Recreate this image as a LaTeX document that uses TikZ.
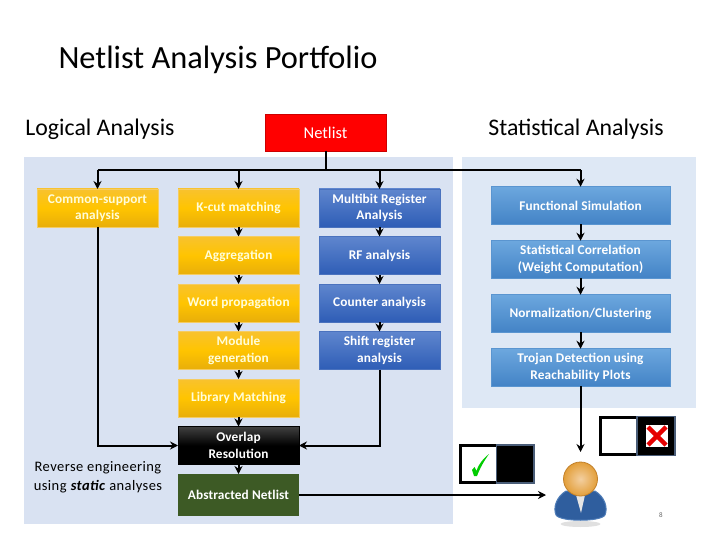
\documentclass[tikz,border=0pt]{standalone}
\usepackage{fontspec}
\setmainfont{Carlito}
\usepackage{xcolor}
\usetikzlibrary{positioning, arrows.meta, calc}
\definecolor{panelL}{HTML}{D9E2F2}
\definecolor{panelR}{HTML}{DEE8F5}
\definecolor{slateB}{HTML}{4A5D78}
\definecolor{goldT}{HTML}{F8C22E}
\definecolor{goldM}{HTML}{FFC400}
\definecolor{goldB}{HTML}{E8AE0A}
\definecolor{goldE}{HTML}{F5CC62}
\definecolor{blueT}{HTML}{5F86CE}
\definecolor{blueB}{HTML}{2E5DB6}
\definecolor{blueE}{HTML}{4A72BE}
\definecolor{skyT}{HTML}{6CA7DE}
\definecolor{skyB}{HTML}{4383C6}
\definecolor{skyE}{HTML}{5A95D0}
\definecolor{mossG}{HTML}{3D5A25}
\definecolor{headC}{HTML}{E39F3A}
\definecolor{headL}{HTML}{F3CFA0}
\definecolor{headE}{HTML}{C2802A}
\definecolor{suitC}{HTML}{2F5E9E}
\definecolor{suitE}{HTML}{4F7DB8}
\begin{document}
\begin{tikzpicture}[
      x=1pt, y=-1pt,
      every node/.style={align=center, inner sep=0pt, outer sep=0pt, font=\fontsize{13}{16.5}\selectfont},
      box/.style={minimum width=121pt, minimum height=38pt, text=white, font=\fontsize{13.3}{16.5}\selectfont\bfseries\addfontfeature{LetterSpace=1}},
      goldbox/.style={box, top color=goldT, bottom color=goldB, middle color=goldM, draw=goldE, line width=0.6pt, text=yellow!15!white},
      bluebox/.style={box, top color=blueT, bottom color=blueB, draw=blueE, line width=0.6pt},
      skybox/.style={box, minimum width=179pt, minimum height=37.5pt, top color=skyT, bottom color=skyB, draw=skyE, line width=0.6pt},
      flow/.style={-{Stealth[length=8pt, width=8pt]}, line width=2pt, black},
      bus/.style={line width=2pt, black},
      heading/.style={font=\fontsize{23.8}{28}\selectfont, text=black}
    ]
      \useasboundingbox (0,0) rectangle (720,540);
      \fill[white] (0,0) rectangle (720,540);
      \fill[panelL] (24,157) rectangle (453,524);
      \fill[panelR] (462,157) rectangle (696,408);

      \node[font=\fontsize{32.4}{38}\selectfont] (title) at (218,60) {Netlist Analysis Portfolio};
      \node[heading] (logical) at (100,129) {Logical Analysis};
      \node[heading] (statistical) at (576,129) {Statistical Analysis};

      \node[box, minimum height=37pt, fill=red, draw=red!80!black, line width=0.5pt, font=\fontsize{16.5}{20}\selectfont] (netlist) at (325.5,132.5) {Netlist};

      \node[goldbox] (common) at (97.5,208) {Common-support\\analysis};

      \node[goldbox] (kcut) at (238.5,208) {K-cut matching};
      \begin{scope}[node distance=9.5pt]
        \node[goldbox, below=of kcut] (aggr) {Aggregation};
        \node[goldbox, below=of aggr] (word) {Word propagation};
        \node[goldbox, below=of word] (module) {Module\\generation};
        \node[goldbox, below=of module] (library) {Library Matching};
        \node[box, below=of library, top color=black!75, bottom color=black, middle color=black, draw=black] (overlap) {Overlap\\Resolution};
        \node[box, below=of overlap, minimum height=42pt, fill=mossG] (abstracted) {Abstracted Netlist};

        \node[bluebox] (multibit) at (379.5,208) {Multibit Register\\Analysis};
        \node[bluebox, below=of multibit] (rf) {RF analysis};
        \node[bluebox, below=of rf] (counter) {Counter analysis};
        \node[bluebox, below=of counter] (shift) {Shift register\\analysis};
      \end{scope}

      \node[skybox] (funcsim) at (580.5,205.5) {Functional Simulation};
      \begin{scope}[node distance=16.5pt]
        \node[skybox, below=of funcsim] (correl) {Statistical Correlation\\(Weight Computation)};
        \node[skybox, below=of correl] (norm) {Normalization/Clustering};
        \node[skybox, below=of norm] (trojan) {Trojan Detection using\\Reachability Plots};
      \end{scope}

      \node[font=\fontsize{14.5}{19}\selectfont\addfontfeature{LetterSpace=3}, text=black] (reverse) at (98,477.5) {Reverse engineering\\using \textbf{\textit{static}} analyses};

      \coordinate (busL) at (common.north |- 0,170);
      \coordinate (busR) at (funcsim.north |- 0,170);
      \coordinate (userT) at (580.5,452);
      \coordinate (userL) at (546,495);

      \draw[bus] (netlist.south) -- (netlist.south |- busL);
      \draw[bus] (busL) -- (busR);
      \draw[flow] (busL) -- (common.north);
      \draw[flow] (kcut.north |- busL) -- (kcut.north);
      \draw[flow] (multibit.north |- busL) -- (multibit.north);
      \draw[flow] (busR) -- (funcsim.north);

      \draw[flow] (kcut) -- (aggr);
      \draw[flow] (aggr) -- (word);
      \draw[flow] (word) -- (module);
      \draw[flow] (module) -- (library);
      \draw[flow] (library) -- (overlap);
      \draw[flow] (overlap) -- (abstracted);

      \draw[flow] (multibit) -- (rf);
      \draw[flow] (rf) -- (counter);
      \draw[flow] (counter) -- (shift);
      \draw[flow] (common.south) |- (overlap.west);
      \draw[flow] (shift.south) |- (overlap.east);

      \draw[flow] (funcsim) -- (correl);
      \draw[flow] (correl) -- (norm);
      \draw[flow] (norm) -- (trojan);
      \draw[flow] (trojan.south) -- (userT);
      \draw[flow] (abstracted.east) -- (userL);

      % yes and no tables
      \draw[black, line width=3pt, fill=white] (460.5,445.5) rectangle (497,482.5);
      \draw[slateB, line width=1.2pt, fill=black] (496.5,445) rectangle (534,483);
      \fill[green!80!black] (472,470) -- (474.5,467) -- (476.5,471) .. controls (479,463) and (484,458) .. (489,454) .. controls (484,461) and (480,468) .. (477,476) -- (474,476) -- cycle;
      \draw[black, line width=3pt, fill=white] (600.5,417.5) rectangle (637,454.5);
      \draw[slateB, line width=1.2pt, fill=black] (637,416.5) rectangle (675,455.5);
      \fill[white] (646,425) rectangle (668,447);
      \draw[red!90!black, line width=4.5pt] (648,427) -- (666,445);
      \draw[red!90!black, line width=4.5pt] (666,427) -- (648,445);

      % user
      \fill[black!12] (580.5,524) ellipse (20 and 3);
      \draw[suitE, line width=1pt, fill=suitC] (566,491) .. controls (556,497) and (553,508) .. (556,515) .. controls (560,522) and (601,522) .. (605,515) .. controls (608,508) and (605,497) .. (595,491) -- cycle;
      \fill[white!90!black] (576,495) -- (581,513) -- (585,495) -- cycle;
      \draw[headE, line width=0.8pt, inner color=headL, outer color=headC] (580.5,479) circle (17);

      \node[font=\fontsize{7}{8}\selectfont, text=black!60] (pagenum) at (661,515) {8};
    \end{tikzpicture}
\end{document}
